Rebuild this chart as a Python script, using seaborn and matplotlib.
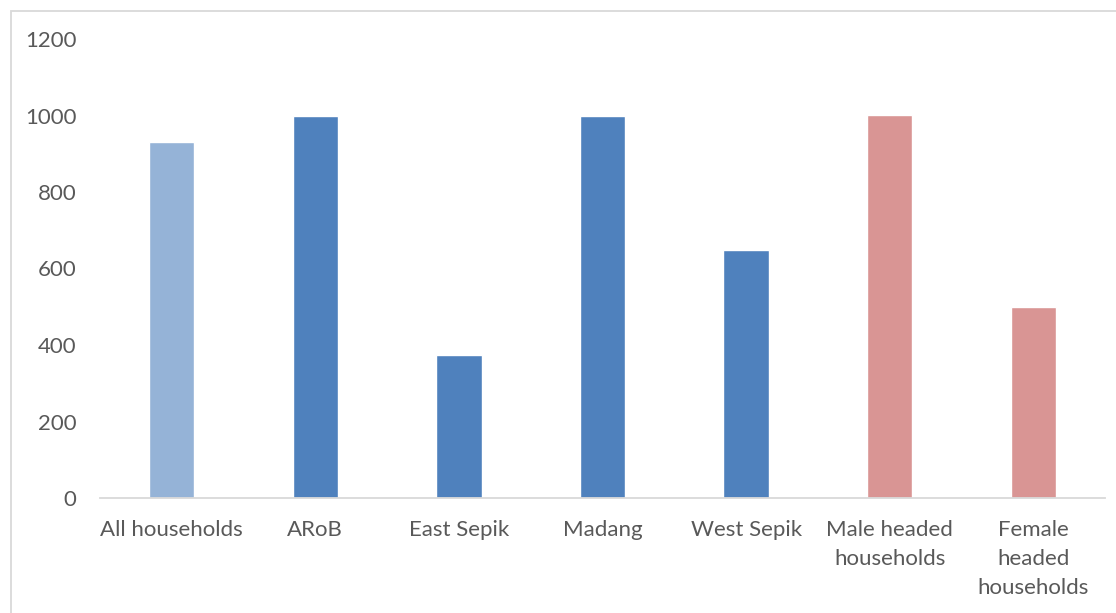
import matplotlib
matplotlib.use("Agg")
import matplotlib.pyplot as plt
from matplotlib.patches import Rectangle
import seaborn as sns
import pandas as pd

categories = ["All households", "ARoB", "East Sepik", "Madang", "West Sepik",
              "Male headed\nhouseholds", "Female\nheaded\nhouseholds"]
values = [931, 1000, 374, 1000, 648, 1002, 500]
bar_colors = ["#95B3D7", "#4F81BD", "#4F81BD", "#4F81BD", "#4F81BD", "#D99594", "#D99594"]
y_ticks = [0, 200, 400, 600, 800, 1000, 1200]

df = pd.DataFrame({"category": categories, "value": values})

sns.set_theme(style="white")
plt.rcParams["font.family"] = ["Lato", "DejaVu Sans"]

fig = plt.figure(figsize=(11.16, 6.13), dpi=100)
ax = fig.add_axes([100 / 1116, 1 - 498 / 613, 1005 / 1116, 459 / 613])

sns.barplot(data=df, x="category", y="value", hue="category",
            palette=dict(zip(categories, bar_colors)), legend=False,
            width=0.315, saturation=1, ax=ax)

ax.set_ylim(0, 1200)
ax.set_yticks(y_ticks)
ax.set_xlim(-0.5, len(categories) - 0.5)
ax.set_xlabel("")
ax.set_ylabel("")
for side in ["top", "right", "left"]:
    ax.spines[side].set_visible(False)
ax.spines["bottom"].set_color("#D9D9D9")
ax.spines["bottom"].set_linewidth(1.3)
ax.tick_params(axis="both", length=0, colors="#595959", labelsize=16)
ax.tick_params(axis="y", pad=17)
ax.tick_params(axis="x", pad=16)
for lbl in ax.get_xticklabels():
    lbl.set_linespacing(1.55)

# light frame around the chart area
fig.patches.append(Rectangle((11 / 1116, -0.05), 1.2, 1 - 11 / 613 + 0.05,
                             transform=fig.transFigure, fill=False,
                             edgecolor="#D9D9D9", linewidth=1.3))

fig.savefig("out.png", dpi=100)
